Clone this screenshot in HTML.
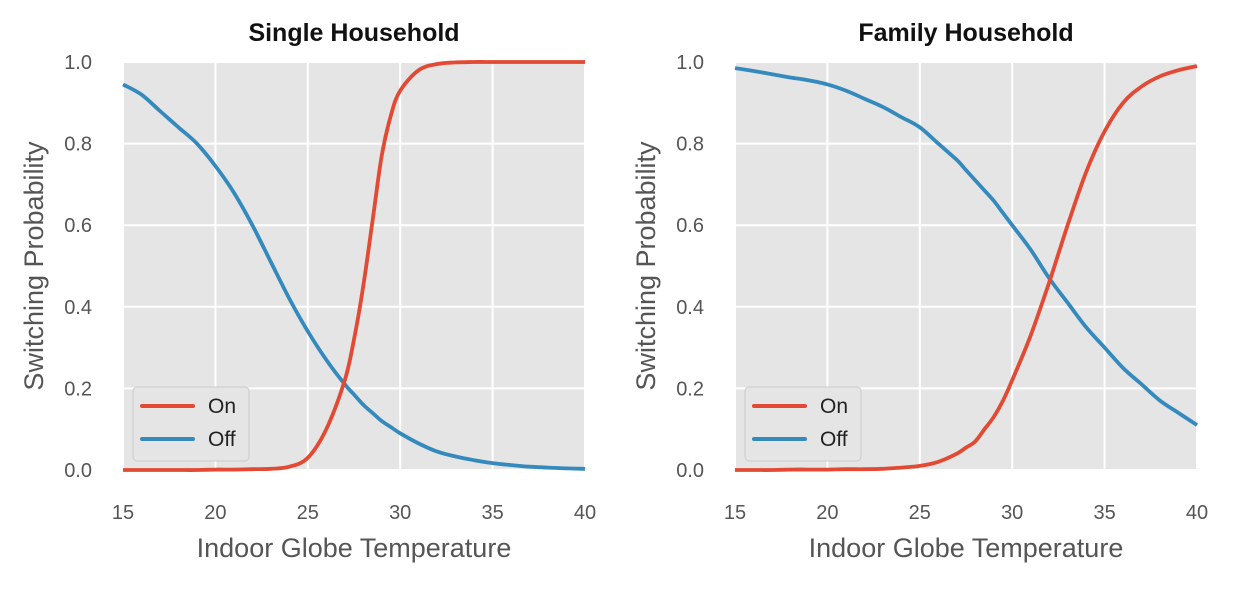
<!DOCTYPE html>
<html><head><meta charset="utf-8"><style>
body{margin:0;background:#fff;width:1233px;height:584px;overflow:hidden}
text{font-family:"Liberation Sans",sans-serif}
</style></head><body>
<svg id="chart" width="1233" height="584"></svg>
<script>
const temps = [15,16,17,18,19,20,21,22,23,24,25,26,27,27.5,28,28.5,29,29.5,30,31,32,33,34,35,36,37,38,39,40];
const singleOn = [0,0,0,0,0,0.001,0.001,0.002,0.003,0.008,0.03,0.1,0.22,0.32,0.45,0.61,0.77,0.87,0.93,0.98,0.995,0.999,1,1,1,1,1,1,1];
const singleOff = [0.945,0.92,0.88,0.84,0.80,0.745,0.68,0.6,0.51,0.42,0.34,0.27,0.21,0.185,0.16,0.14,0.12,0.105,0.09,0.065,0.045,0.033,0.024,0.017,0.012,0.008,0.006,0.004,0.003];
const familyOn = [0,0,0,0.001,0.001,0.001,0.002,0.002,0.003,0.006,0.01,0.02,0.04,0.055,0.07,0.1,0.13,0.17,0.22,0.33,0.46,0.6,0.73,0.83,0.9,0.94,0.965,0.98,0.99];
const familyOff = [0.985,0.978,0.97,0.962,0.955,0.945,0.93,0.91,0.89,0.865,0.84,0.8,0.76,0.735,0.71,0.685,0.66,0.63,0.6,0.54,0.47,0.41,0.35,0.3,0.25,0.21,0.17,0.14,0.11];
const xTicks = [15,20,25,30,35,40];
const yTicks = [0,0.2,0.4,0.6,0.8,1.0];
const yTickLabels = ["0.0","0.2","0.4","0.6","0.8","1.0"];
const panels = [
 {title:"Single Household", left:123, on:singleOn, off:singleOff, name:"single"},
 {title:"Family Household", left:735, on:familyOn, off:familyOff, name:"family"}
];
const NS="http://www.w3.org/2000/svg";
const svg=document.getElementById('chart');
function mk(tag,attrs,parent){const e=document.createElementNS(NS,tag);for(const k in attrs)e.setAttribute(k,attrs[k]);(parent||svg).appendChild(e);return e;}
function smooth(pts){
  let d='M'+pts[0][0].toFixed(1)+','+pts[0][1].toFixed(1);
  for(let i=0;i<pts.length-1;i++){
    const p0=pts[i-1]||pts[i],p1=pts[i],p2=pts[i+1],p3=pts[i+2]||p2;
    const c1=[p1[0]+(p2[0]-p0[0])/6,p1[1]+(p2[1]-p0[1])/6];
    const c2=[p2[0]-(p3[0]-p1[0])/6,p2[1]-(p3[1]-p1[1])/6];
    d+='C'+c1.map(v=>v.toFixed(1))+' '+c2.map(v=>v.toFixed(1))+' '+p2.map(v=>v.toFixed(1));
  }
  return d;
}
const W=462, plotTop=62, plotBottom=470;
panels.forEach(p=>{
  const g=mk('g',{});
  
  
  const x=v=>p.left+(v-15)/25*W;
  const y=v=>plotBottom-v*(plotBottom-plotTop);
  const bg=mk('rect',{x:p.left,y:plotTop,width:W,height:plotBottom-plotTop,fill:'#E5E5E5'},g);
  
  
  xTicks.forEach(t=>{
    const l=mk('line',{x1:x(t),x2:x(t),y1:plotTop,y2:plotBottom,stroke:'#fff','stroke-width':2},g);
    
    
    const tx=mk('text',{x:x(t),y:519,'text-anchor':'middle','font-size':20,fill:'#555'},g);
    tx.textContent=t;
    
    
  });
  yTicks.forEach((t,i)=>{
    const l=mk('line',{x1:p.left,x2:p.left+W,y1:y(t),y2:y(t),stroke:'#fff','stroke-width':2},g);
    
    
    const tx=mk('text',{x:p.left-31,y:y(t)+7,'text-anchor':'end','font-size':20,fill:'#555'},g);
    tx.textContent=yTickLabels[i];
    
    
  });
  [[p.off,'#348ABD','off-line'],[p.on,'#E24A33','on-line']].forEach(([arr,c,n])=>{
    const pts=arr.map((v,i)=>[x(temps[i]),y(v)]);
    const path=mk('path',{d:smooth(pts),fill:'none',stroke:c,'stroke-width':3.8,'stroke-linejoin':'round'},g);
    
    
  });
  const tt=mk('text',{x:p.left+W/2,y:41,'text-anchor':'middle','font-size':25,'font-weight':'bold',fill:'#111'},g);
  tt.textContent=p.title;
  
  
  const xt=mk('text',{x:p.left+W/2,y:557,'text-anchor':'middle','font-size':27,fill:'#555'},g);
  xt.textContent='Indoor Globe Temperature';
  
  
  const yt=mk('text',{x:0,y:0,'text-anchor':'middle','font-size':27,fill:'#555',transform:`translate(${p.left-80},${(plotTop+plotBottom)/2}) rotate(-90)`},g);
  yt.textContent='Switching Probability';
  
  
  const lg=mk('g',{},g);
  
  
  mk('rect',{x:p.left+10,y:387,width:116,height:74,rx:4,fill:'#E5E5E5',stroke:'#ccc','stroke-width':1},lg);
  [['On','#E24A33',406],['Off','#348ABD',439]].forEach(([lab,c,yy])=>{
    const l=mk('line',{x1:p.left+19,x2:p.left+70,y1:yy,y2:yy,stroke:c,'stroke-width':4,'stroke-linecap':'round'},lg);
    
    
    const tx=mk('text',{x:p.left+85,y:yy+7,'font-size':21,fill:'#222'},lg);
    tx.textContent=lab;
    
    
  });
});
</script>
</body></html>
